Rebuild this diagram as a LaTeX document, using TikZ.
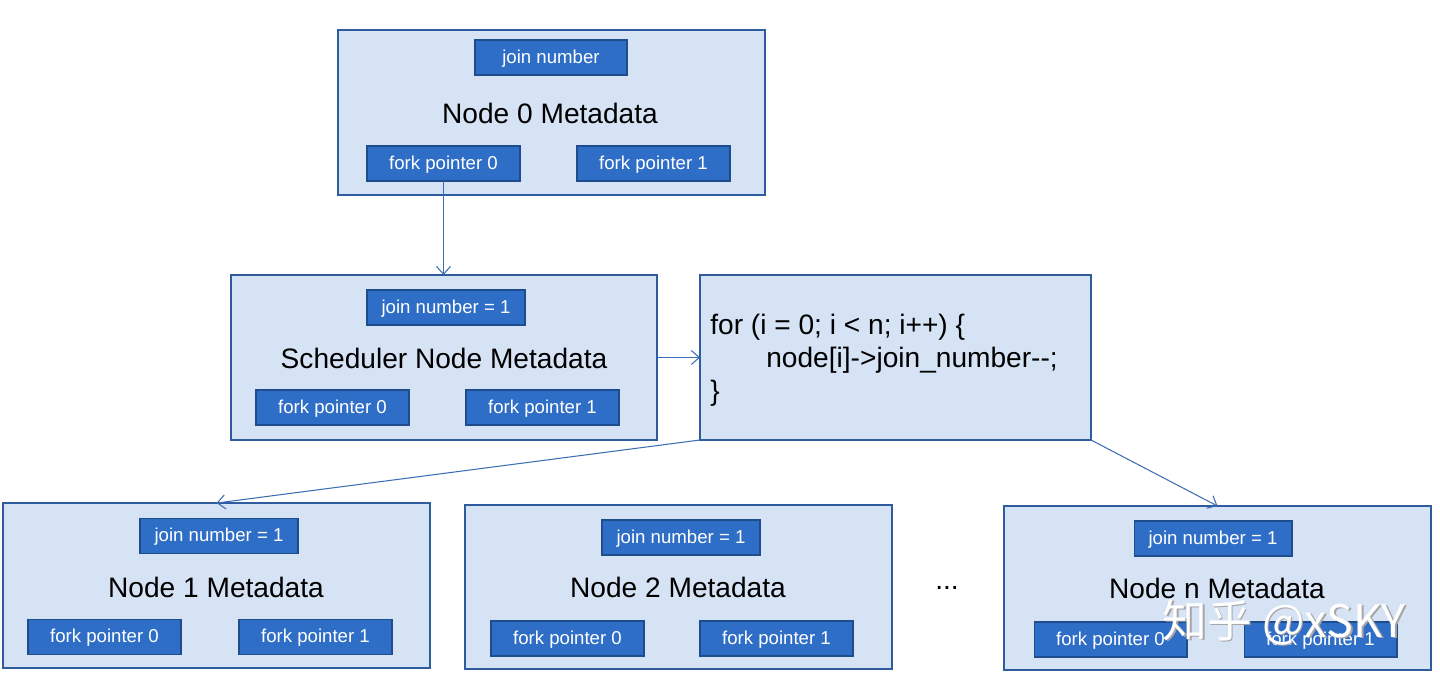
\documentclass[tikz,border=0pt]{standalone}
\usepackage{fontspec}
\setmainfont{Liberation Sans}
\newfontfamily\cjk{Noto Sans CJK SC}
\usetikzlibrary{arrows.meta}
\definecolor{boxfill}{HTML}{D6E3F5}
\definecolor{boxline}{HTML}{2E5C9E}
\definecolor{tagfill}{HTML}{2F6EC6}
\definecolor{tagline}{HTML}{1E4C8C}
\definecolor{arr}{HTML}{3C6EB4}
\tikzset{
  bigbox/.style={draw=boxline, fill=boxfill, line width=0.8pt, inner sep=0pt, outer sep=0pt, minimum width=8.54cm, minimum height=3.3cm},
  tag/.style={draw=tagline, fill=tagfill, line width=0.6pt, text=white, inner sep=0pt, outer sep=0pt, minimum width=3.06cm, minimum height=0.7cm, text height=8pt, text depth=1.2pt, font=\fontsize{10.6pt}{12pt}\selectfont},
  title/.style={font=\fontsize{16pt}{19pt}\selectfont, inner sep=0pt},
  conn/.style={draw=arr, line width=0.6pt, -{Straight Barb[length=4.5pt,width=8pt]}}
}
\begin{document}
\begin{tikzpicture}[x=0.02cm, y=-0.02cm]
\useasboundingbox (0,0) rectangle (1440,681);
% Node 0
\node[bigbox] (n0) at (551.5,112.5) {};
\node[tag, minimum width=3.04cm] (n0j) at (551,57.5) {join number};
\node[title] (n0t) at (550,113) {Node 0 Metadata};
\node[tag] (n0f0) at (443.5,163.5) {fork pointer 0};
\node[tag] (n0f1) at (653.5,163.5) {fork pointer 1};
% Scheduler
\node[bigbox, minimum width=8.52cm] (s) at (444,357.5) {};
\node[tag, minimum width=3.16cm] (sj) at (446,307.5) {join number = 1};
\node[title] (st) at (444,358) {Scheduler Node Metadata};
\node[tag] (sf0) at (332.5,407.5) {fork pointer 0};
\node[tag] (sf1) at (542.5,407.5) {fork pointer 1};
% Code
\node[bigbox, minimum width=7.82cm] (c) at (895.5,357.5) {};
\node[title, anchor=west, align=left, font=\fontsize{16pt}{18.7pt}\selectfont] (ct) at (710,360)
  {for (i = 0; i < n; i++) \{\\\hspace*{1.12cm}node[i]->join\_number-{}-;\\\}};
% Node 1
\node[bigbox] (n1) at (216.5,585.5) {};
\node[tag, minimum width=3.16cm] (n1j) at (219,536) {join number = 1};
\node[title] (n1t) at (216,587) {Node 1 Metadata};
\node[tag] (n1f0) at (104.5,637) {fork pointer 0};
\node[tag] (n1f1) at (315.5,637) {fork pointer 1};
% Node 2
\node[bigbox, minimum height=3.28cm] (n2) at (678.5,587) {};
\node[tag, minimum width=3.16cm] (n2j) at (681,537.5) {join number = 1};
\node[title] (n2t) at (678,587) {Node 2 Metadata};
\node[tag] (n2f0) at (567.5,638.5) {fork pointer 0};
\node[tag] (n2f1) at (776.5,638.5) {fork pointer 1};
% dots
\node[font=\fontsize{16pt}{19pt}\selectfont, inner sep=0pt] (dots) at (947,588) {...};
% Node n
\node[bigbox, minimum height=3.28cm] (nn) at (1217.5,588) {};
\node[tag, minimum width=3.16cm] (nnj) at (1213,538.5) {join number = 1};
\node[title] (nnt) at (1217,588) {Node n Metadata};
\node[tag] (nnf0) at (1110.5,639.5) {fork pointer 0};
\node[tag] (nnf1) at (1320.5,639.5) {fork pointer 1};
% connectors
\draw[conn] (n0f0.south) -- (n0f0.south |- s.north);
\draw[conn] (s.east) -- (c.west);
\draw[conn] (c.south west) -- (n1.north);
\draw[conn] (c.south east) -- (nn.north);
% watermark
\node[font=\cjk\fontsize{25.5pt}{28pt}\selectfont, text=gray!70, inner sep=0pt] (wms) at (1285.5,624) {知乎 @xSKY};
\node[font=\cjk\fontsize{25.5pt}{28pt}\selectfont, text=white, inner sep=0pt] (wm) at (1284,622.5) {知乎 @xSKY};
\end{tikzpicture}
\end{document}
